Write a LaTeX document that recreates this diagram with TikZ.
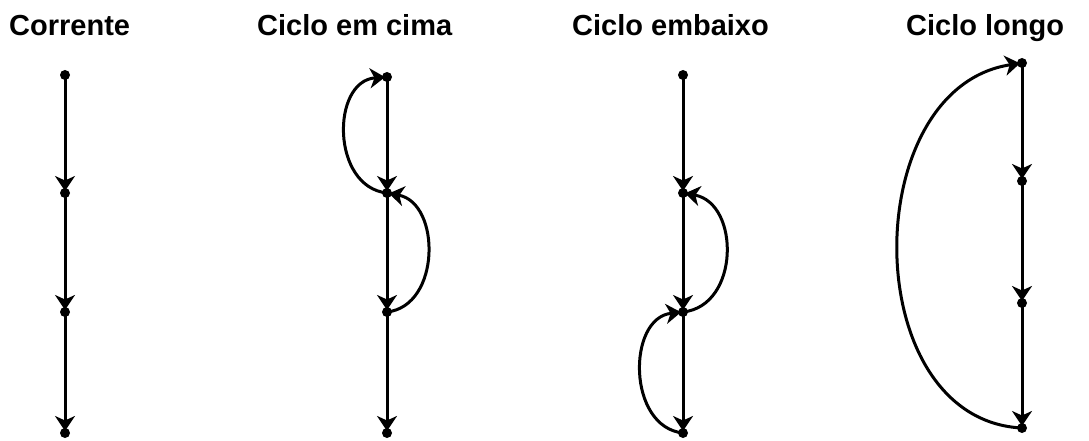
\documentclass[tikz,border=0pt]{standalone}
\usepackage{fontspec}
\setmainfont{Liberation Sans}
\usetikzlibrary{arrows.meta}
\begin{document}
\begin{tikzpicture}[x=1pt,y=-1pt,
  vert/.style={circle,fill=black,inner sep=0pt,minimum size=10pt},
  edge/.style={line width=3pt,-{Stealth[length=15pt,width=20pt,inset=4.5pt]},shorten >=2pt},
  title/.style={anchor=base west,inner sep=0pt,font=\fontsize{29}{34}\selectfont\bfseries}]
\useasboundingbox (0,0) rectangle (1089,441);
% titles
\node[title] (t1) at (9,36) {Corrente};
\node[title] (t2) at (257,36) {Ciclo em cima};
\node[title] (t3) at (572,36) {Ciclo embaixo};
\node[title] (t4) at (906,36) {Ciclo longo};
% column 1
\node[vert] (a1) at (65,75) {};
\node[vert] (a2) at (65,193) {};
\node[vert] (a3) at (65,312) {};
\node[vert] (a4) at (65,433) {};
\draw[edge] (a1.center) -- (a2.center);
\draw[edge] (a2.center) -- (a3.center);
\draw[edge] (a3.center) -- (a4.center);
% column 2
\node[vert] (b1) at (387,77) {};
\node[vert] (b2) at (387,193) {};
\node[vert] (b3) at (387,312) {};
\node[vert] (b4) at (387,433) {};
\draw[edge] (b1.center) -- (b2.center);
\draw[edge] (b2.center) -- (b3.center);
\draw[edge] (b3.center) -- (b4.center);
\draw[edge] (b2.center) .. controls +(-56,-6) and +(-56,4) .. (b1.center);
\draw[edge] (b3.center) .. controls +(54,-6) and +(54,10) .. (b2.center);
% column 3
\node[vert] (c1) at (683,75) {};
\node[vert] (c2) at (683,193) {};
\node[vert] (c3) at (683,312) {};
\node[vert] (c4) at (683,433) {};
\draw[edge] (c1.center) -- (c2.center);
\draw[edge] (c2.center) -- (c3.center);
\draw[edge] (c3.center) -- (c4.center);
\draw[edge] (c3.center) .. controls +(57,-6) and +(57,10) .. (c2.center);
\draw[edge] (c4.center) .. controls +(-56,-6) and +(-56,6) .. (c3.center);
% column 4
\node[vert] (d1) at (1022,63) {};
\node[vert] (d2) at (1022,181) {};
\node[vert] (d3) at (1022,303) {};
\node[vert] (d4) at (1022,428) {};
\draw[edge] (d1.center) -- (d2.center);
\draw[edge] (d2.center) -- (d3.center);
\draw[edge] (d3.center) -- (d4.center);
\draw[edge] (d4.center) .. controls +(-165,-8) and +(-165,25) .. (d1.center);
\end{tikzpicture}
\end{document}
